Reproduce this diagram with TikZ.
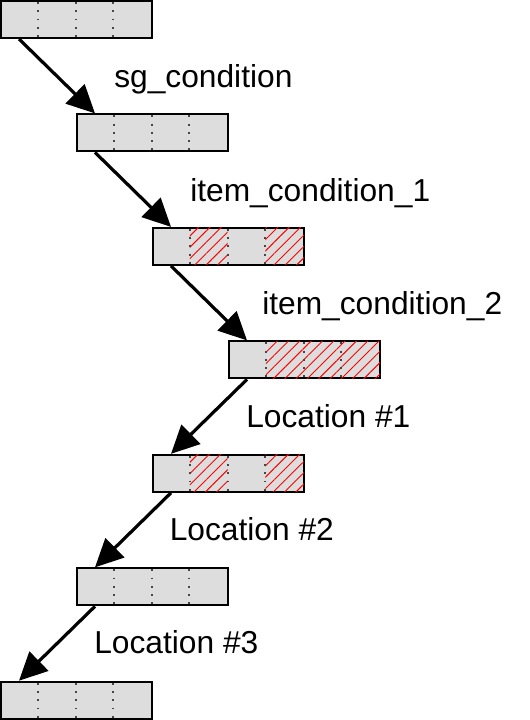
\documentclass[tikz,border=0pt]{standalone}
\usepackage{fontspec}
\setmainfont{Liberation Sans}
\usetikzlibrary{arrows.meta,calc,patterns.meta}
\definecolor{slotgray}{RGB}{221,221,221}
\definecolor{dotgray}{RGB}{70,70,70}
\tikzset{
	slot/.style={draw, line width=1.5pt, fill=slotgray, minimum width=113.25pt, minimum height=27.75pt, inner sep=0pt},
	hatch/.style={pattern={Lines[angle=45,distance=6pt,line width=0.7pt]}, pattern color=red},
	divider/.style={draw=dotgray, line width=1.5pt, dash pattern=on 1.4pt off 4.8pt, dash phase=-1.5pt},
	flow/.style={line width=2.4pt, -{Triangle[length=21pt,width=20pt]}},
	tag/.style={anchor=base west, inner sep=0pt, font=\fontsize{23.8}{28}\selectfont}
}

\begin{document}
\begin{tikzpicture}[x=0.75pt, y=-0.75pt]
		\useasboundingbox (0,0) rectangle (530,720);
		% the seven slots
		\node [slot] (b1) at (76.5,19.5) {};
		\node [slot] (b2) at (152.5,132.9) {};
		\node [slot] (b3) at (228.5,246.4) {};
		\node [slot] (b4) at (304.5,359.9) {};
		\node [slot] (b5) at (228.5,473.3) {};
		\node [slot] (b6) at (152.5,586.8) {};
		\node [slot] (b7) at (76.5,700.2) {};
		% hatched cells
		\fill [hatch] ($(b3.north west)+(37.75,1)$) rectangle ($(b3.south west)+(75.5,-1)$);
		\fill [hatch] ($(b3.north west)+(113.25,1)$) rectangle ($(b3.south east)+(-1,-1)$);
		\fill [hatch] ($(b4.north west)+(37.75,1)$) rectangle ($(b4.south east)+(-1,-1)$);
		\fill [hatch] ($(b5.north west)+(37.75,1)$) rectangle ($(b5.south west)+(75.5,-1)$);
		\fill [hatch] ($(b5.north west)+(113.25,1)$) rectangle ($(b5.south east)+(-1,-1)$);
		% cell dividers
		\draw [divider] ($(b1.north west)+(37.75,0)$) -- ++(0,37) ($(b1.north west)+(75.5,0)$) -- ++(0,37) ($(b1.north west)+(113.25,0)$) -- ++(0,37);
		\draw [divider] ($(b2.north west)+(37.75,0)$) -- ++(0,37) ($(b2.north west)+(75.5,0)$) -- ++(0,37) ($(b2.north west)+(113.25,0)$) -- ++(0,37);
		\draw [divider] ($(b3.north west)+(37.75,0)$) -- ++(0,37) ($(b3.north west)+(75.5,0)$) -- ++(0,37) ($(b3.north west)+(113.25,0)$) -- ++(0,37);
		\draw [divider] ($(b4.north west)+(37.75,0)$) -- ++(0,37) ($(b4.north west)+(75.5,0)$) -- ++(0,37) ($(b4.north west)+(113.25,0)$) -- ++(0,37);
		\draw [divider] ($(b5.north west)+(37.75,0)$) -- ++(0,37) ($(b5.north west)+(75.5,0)$) -- ++(0,37) ($(b5.north west)+(113.25,0)$) -- ++(0,37);
		\draw [divider] ($(b6.north west)+(37.75,0)$) -- ++(0,37) ($(b6.north west)+(75.5,0)$) -- ++(0,37) ($(b6.north west)+(113.25,0)$) -- ++(0,37);
		\draw [divider] ($(b7.north west)+(37.75,0)$) -- ++(0,37) ($(b7.north west)+(75.5,0)$) -- ++(0,37) ($(b7.north west)+(113.25,0)$) -- ++(0,37);
		% arrows
		\draw [flow] ($(b1.south west)+(19,0)$) -- ($(b2.north west)+(19,0)$);
		\draw [flow] ($(b2.south west)+(19,0)$) -- ($(b3.north west)+(19,0)$);
		\draw [flow] ($(b3.south west)+(19,0)$) -- ($(b4.north west)+(19,0)$);
		\draw [flow] ($(b4.south west)+(19,0)$) -- ($(b5.north west)+(19,0)$);
		\draw [flow] ($(b5.south west)+(19,0)$) -- ($(b6.north west)+(19,0)$);
		\draw [flow] ($(b6.south west)+(19,0)$) -- ($(b7.north west)+(19,0)$);
		% labels
		\node [tag] (l1) at (114,88) {sg\_condition};
		\node [tag] (l2) at (190,201.7) {item\_condition\_1};
		\node [tag] (l3) at (262,314) {item\_condition\_2};
		\node [tag] (l4) at (246,427) {Location \#1};
		\node [tag] (l5) at (169.5,540.3) {Location \#2};
		\node [tag] (l6) at (94,653.5) {Location \#3};
	\end{tikzpicture}
\end{document}
